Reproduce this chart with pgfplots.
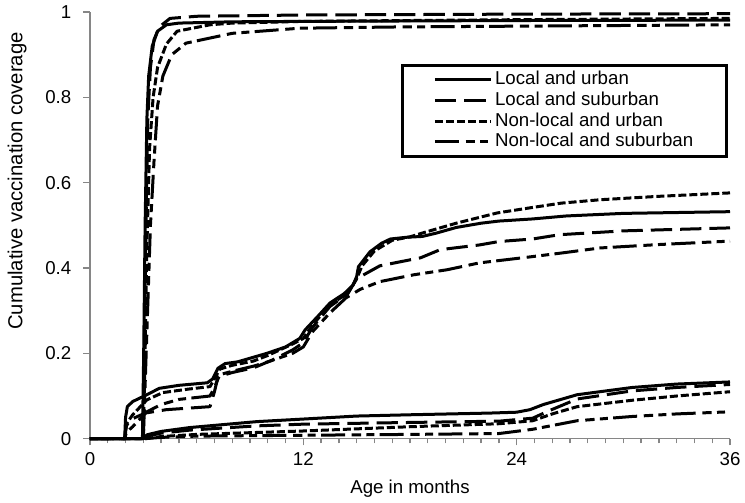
\documentclass[border=0pt]{standalone}
\usepackage{fontspec}
\setmainfont{Liberation Sans}
\usepackage{pgfplots}
\pgfplotsset{compat=1.18}

\definecolor{axisgray}{RGB}{134,134,134}

% line styles of the four groups
\tikzset{
  lu/.style={black, line width=2.25pt, line join=round},
  ls/.style={black, line width=2.25pt, line join=round, dash pattern=on 16pt off 6pt},
  nu/.style={black, line width=2.25pt, line join=round, dash pattern=on 6pt off 2.25pt},
  ns/.style={black, line width=2.25pt, line join=round, dash pattern=on 18pt off 5pt on 7pt off 4pt on 6pt off 4pt},
}

\begin{document}
\begin{tikzpicture}
\begin{axis}[
  name=ax,
  scale only axis,
  width=480pt, height=320pt,
  xmin=0, xmax=36, ymin=0, ymax=1,
  axis x line=bottom, axis y line=left,
  axis line style={axisgray, line width=1pt, -},
  xtick={0,12,24,36}, minor x tick num=11,
  ytick={0,0.2,0.4,0.6,0.8,1},
  yticklabels={0,0.2,0.4,0.6,0.8,1},
  tick align=outside,
  major tick length=5pt, minor tick length=3.5pt,
  tick style={axisgray, line width=1pt},
  /pgf/number format/assume math mode=true,
  font=\fontsize{14}{16.8}\selectfont,
  tick label style={font=\fontsize{14}{16.8}\selectfont},
  yticklabel style={xshift=-5.5pt},
  xticklabel style={yshift=-2pt},
  xlabel={Age in months},
  ylabel={Cumulative vaccination coverage},
  xlabel style={at={(axis description cs:0.5,0)}, anchor=center, yshift=-37.5pt},
  ylabel style={at={(axis description cs:-0.114,0.604)}, anchor=center,
    font=\fontsize{15.2}{18}\selectfont},
  clip=false,
  legend style={
    at={(rel axis cs:0.997,0.878)}, anchor=north east,
    draw=black, line width=2.25pt,
    inner xsep=23pt, inner ysep=3pt,
    font=\fontsize{14}{16.8}\selectfont,
    nodes={inner ysep=1pt, text height=10.5pt, text depth=3pt},
  },
  legend cell align=left,
  legend image code/.code={\draw[#1] (0pt,0pt) -- (42pt,0pt);},
]

% ---- early, high group ----
\addplot[lu] coordinates {
(0,0)(2.95,0)(3.02,0.2)(3.1,0.5)(3.2,0.75)(3.3,0.85)(3.5,0.92)(3.8,0.955)
(4.3,0.97)(5,0.974)(8,0.977)(12,0.978)(24,0.98)(36,0.981)};
\addlegendentry{Local and urban}
\addplot[ls] coordinates {
(0,0)(2.98,0)(3.05,0.2)(3.15,0.5)(3.25,0.75)(3.4,0.87)(3.6,0.935)(3.9,0.965)
(4.5,0.985)(6,0.99)(12,0.993)(24,0.995)(36,0.996)};
\addlegendentry{Local and suburban}
\addplot[nu] coordinates {
(0,0)(3.0,0)(3.1,0.2)(3.2,0.45)(3.35,0.68)(3.55,0.8)(3.8,0.87)(4.3,0.925)
(4.9,0.955)(6.75,0.97)(8,0.974)(12,0.978)(24,0.982)(36,0.985)};
\addlegendentry{Non-local and urban}
\addplot[ns] coordinates {
(0,0)(3.0,0)(3.2,0.25)(3.4,0.5)(3.6,0.65)(3.8,0.78)(4.1,0.85)(4.6,0.9)
(5.4,0.927)(8,0.95)(11.8,0.962)(17.4,0.965)(36,0.97)};
\addlegendentry{Non-local and suburban}

% ---- middle group ----
\addplot[lu, forget plot] coordinates {
(0,0)(1.95,0)(2.0,0.05)(2.1,0.075)(2.4,0.087)(2.8,0.095)(3.2,0.103)(3.9,0.118)
(5,0.125)(6.6,0.131)(6.9,0.14)(7.2,0.165)(7.6,0.176)(8.3,0.18)(9.95,0.2)
(11,0.215)(11.8,0.235)(12.1,0.255)(12.8,0.286)(13.5,0.318)(14.3,0.34)
(14.8,0.36)(15.0,0.38)(15.1,0.403)(15.75,0.438)(16.4,0.458)(16.9,0.468)
(17.8,0.472)(18.7,0.474)(19.5,0.482)(20.6,0.495)(22,0.505)(23,0.51)
(24.9,0.515)(26.8,0.522)(30,0.528)(36,0.532)};
\addplot[ls, forget plot] coordinates {
(0,0)(1.95,0)(2.05,0.03)(2.25,0.044)(3.1,0.06)(4.3,0.068)(6.75,0.075)
(7.0,0.11)(7.2,0.145)(8,0.155)(9.2,0.166)(10.3,0.185)(11.4,0.208)(12,0.225)
(12.5,0.26)(13.5,0.31)(14.5,0.34)(15,0.375)(16.3,0.405)(17.5,0.415)
(18.6,0.424)(19.7,0.443)(21.9,0.454)(23,0.462)(24.9,0.468)(26.4,0.478)
(30,0.487)(36,0.494)};
\addplot[nu, forget plot] coordinates {
(0,0)(1.95,0)(2.05,0.035)(2.4,0.056)(3.2,0.091)(4.1,0.108)(5.5,0.116)
(6.75,0.122)(7.0,0.14)(7.3,0.163)(8,0.172)(9.2,0.182)(10,0.195)(11.4,0.222)
(12,0.235)(12.5,0.265)(13.5,0.315)(14.5,0.34)(15.0,0.375)(15.3,0.405)
(16,0.44)(17,0.465)(18,0.473)(18.7,0.482)(20.6,0.505)(22.9,0.529)
(24.75,0.541)(26.5,0.552)(28.7,0.56)(32,0.568)(36,0.576)};
\addplot[ns, forget plot] coordinates {
(0,0)(1.95,0)(2.05,0.015)(2.4,0.028)(3.2,0.063)(4,0.08)(5,0.092)(6.75,0.1)
(7.0,0.12)(7.3,0.15)(8,0.158)(9.2,0.17)(10,0.18)(11.4,0.2)(12,0.215)
(12.5,0.25)(13.5,0.295)(14.4,0.33)(15.2,0.35)(16.3,0.368)(18.2,0.384)
(20.1,0.396)(21.9,0.412)(24.75,0.426)(26.5,0.435)(28.7,0.447)(32,0.455)
(36,0.463)};

% ---- late, low group ----
\addplot[lu, forget plot] coordinates {
(0,0)(3.0,0)(3.2,0.009)(4,0.017)(5.6,0.026)(7.5,0.033)(9.4,0.04)(12,0.046)
(15,0.053)(18,0.056)(22.5,0.06)(24,0.062)(24.75,0.068)(25.5,0.08)
(27.4,0.103)(30.5,0.12)(33,0.128)(36,0.133)};
\addplot[ls, forget plot] coordinates {
(3.0,0)(3.3,0.007)(4,0.013)(5.6,0.02)(9.4,0.03)(12,0.034)(18,0.038)
(23,0.041)(24.9,0.048)(25.8,0.065)(27.4,0.093)(30.5,0.112)(33,0.12)
(36,0.127)};
\addplot[nu, forget plot] coordinates {
(3.1,0)(4,0.005)(6,0.01)(12,0.018)(18,0.028)(23,0.035)(24.9,0.042)
(26,0.058)(27.4,0.075)(30.5,0.09)(33,0.1)(36,0.11)};
\addplot[ns, forget plot] coordinates {
(3.1,0)(4,0.003)(6,0.006)(12,0.008)(18,0.01)(23,0.012)(24.9,0.022)
(27.4,0.042)(30.5,0.052)(33,0.058)(36,0.063)};
\end{axis}
\pgfresetboundingbox
\path[use as bounding box] ([xshift=-67.5pt,yshift=-48pt]ax.south west)
  rectangle ([xshift=11.25pt,yshift=9pt]ax.north east);
\end{tikzpicture}
\end{document}
